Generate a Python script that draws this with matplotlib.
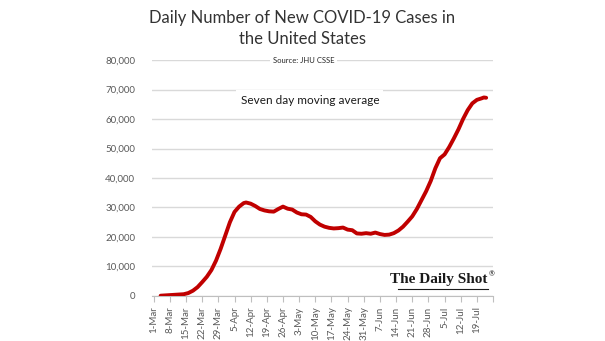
import pandas as pd
import matplotlib
matplotlib.use("Agg")
import matplotlib.pyplot as plt

# seven day moving average of new cases, read at roughly 2-day steps
dates = ["2020-03-04", "2020-03-06", "2020-03-08", "2020-03-10", "2020-03-12", "2020-03-14",
         "2020-03-16", "2020-03-18", "2020-03-20", "2020-03-22", "2020-03-24", "2020-03-26",
         "2020-03-28", "2020-03-30", "2020-04-01", "2020-04-03", "2020-04-05", "2020-04-07",
         "2020-04-09", "2020-04-10", "2020-04-12", "2020-04-14", "2020-04-16", "2020-04-18",
         "2020-04-20", "2020-04-22", "2020-04-24", "2020-04-26", "2020-04-28", "2020-04-30",
         "2020-05-02", "2020-05-04", "2020-05-06", "2020-05-08", "2020-05-10", "2020-05-12",
         "2020-05-14", "2020-05-16", "2020-05-18", "2020-05-20", "2020-05-22", "2020-05-24",
         "2020-05-26", "2020-05-28", "2020-05-30", "2020-06-01", "2020-06-03", "2020-06-05",
         "2020-06-07", "2020-06-09", "2020-06-11", "2020-06-13", "2020-06-15", "2020-06-17",
         "2020-06-19", "2020-06-21", "2020-06-23", "2020-06-25", "2020-06-27", "2020-06-29",
         "2020-07-01", "2020-07-03", "2020-07-05", "2020-07-07", "2020-07-09", "2020-07-11",
         "2020-07-13", "2020-07-15", "2020-07-17", "2020-07-19", "2020-07-21", "2020-07-22",
         "2020-07-23"]
cases = [100, 200, 300, 400, 500, 600,
         1000, 1800, 3000, 4700, 6500, 8800,
         12000, 16000, 20500, 25000, 28500, 30300,
         31500, 31700, 31300, 30500, 29500, 29000,
         28700, 28600, 29500, 30300, 29600, 29300,
         28300, 27700, 27600, 26800, 25300, 24200,
         23500, 23100, 22900, 23000, 23200, 22500,
         22300, 21200, 21100, 21300, 21100, 21500,
         21000, 20700, 20800, 21300, 22200, 23500,
         25200, 27000, 29500, 32500, 35500, 39000,
         43300, 46700, 48000, 50500, 53400, 56500,
         60000, 63000, 65300, 66500, 67000, 67300,
         67200]

start = pd.Timestamp("2020-03-01")
tick_dates = pd.date_range(start, "2020-07-19", freq="7D")
tick_labels = [f"{d.day}-{d.strftime('%b')}" for d in tick_dates]
y_ticks = list(range(0, 80001, 10000))

days = [(pd.Timestamp(d) - start).days for d in dates]
tick_pos = [(d - start).days for d in tick_dates]

plt.rcParams['font.family'] = ['Lato', 'DejaVu Sans']
fig = plt.figure(figsize=(6.05, 3.41), dpi=100)
ax = fig.add_axes([0.251, 0.132, 0.564, 0.692])

ax.plot(days, cases, color="#c00000", lw=2.8, solid_capstyle="round", zorder=3)

ax.set_xlim(-0.8, 147)
ax.set_ylim(0, 80000)
ax.set_yticks(y_ticks)
ax.set_yticklabels([f"{v:,}" for v in y_ticks])
ax.set_xticks(tick_pos + [147])
ax.set_xticklabels(tick_labels + [""], rotation=90)
ax.grid(axis="y", color="#d9d9d9", lw=1)
ax.set_axisbelow(True)

for s in ["left", "right", "top"]:
    ax.spines[s].set_visible(False)
ax.spines["bottom"].set_color("#bfbfbf")
ax.tick_params(axis="y", length=0, labelsize=7, labelcolor="#595959", pad=12)
ax.tick_params(axis="x", length=4, color="#bfbfbf", labelsize=7, labelcolor="#595959")

fig.text(0.5, 0.972, "Daily Number of New COVID-19 Cases in\nthe United States",
         ha="center", va="top", fontsize=12, color="#333333", linespacing=1.4)
ax.text(0.445, 1.0, "Source: JHU CSSE", transform=ax.transAxes, ha="center", va="center",
        fontsize=5.5, color="#262626",
        bbox=dict(facecolor="white", edgecolor="none", pad=2))
ax.text(0.26, 0.83, "Seven day moving average", transform=ax.transAxes, ha="left",
        va="center", fontsize=8.5, color="#1a1a1a",
        bbox=dict(facecolor="white", edgecolor="none", pad=3))

# logo in the lower right corner
ax.text(0.985, 0.07, "The Daily Shot", transform=ax.transAxes, ha="right", va="center",
        fontsize=11, fontweight="bold", family="Liberation Serif", color="#1a1a1a",
        bbox=dict(facecolor="white", edgecolor="none", pad=2))
ax.text(0.988, 0.095, "®", transform=ax.transAxes, ha="left", va="center",
        fontsize=5, color="#1a1a1a")
ax.plot([0.72, 0.985], [0.03, 0.03], transform=ax.transAxes, color="#1a1a1a",
        lw=0.8, zorder=4)

fig.savefig("out.png", dpi=100, facecolor="white")
